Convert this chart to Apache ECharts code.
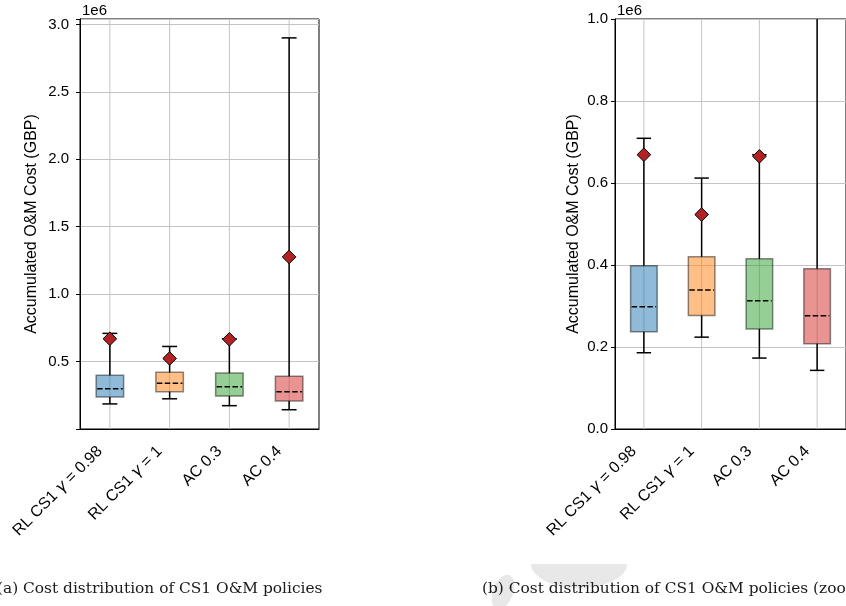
<!DOCTYPE html>
<html><head><meta charset="utf-8">
<script src="https://cdn.jsdelivr.net/npm/echarts@6/dist/echarts.min.js"></script>
<style>html,body{margin:0;padding:0;background:#fff}#c{width:846px;height:606px}</style>
</head><body><div id="c"></div>
<script>
// values in units of 1e6 GBP
const categories = ['RL CS1 γ = 0.98', 'RL CS1 γ = 1', 'AC 0.3', 'AC 0.4'];
const whiskerLow  = [0.186, 0.224, 0.173, 0.143];
const q1          = [0.237, 0.277, 0.244, 0.208];
const median      = [0.298, 0.339, 0.313, 0.276];
const q3          = [0.398, 0.420, 0.415, 0.391];
const whiskerHigh = [0.709, 0.612, 0.669, 2.900];
const mean        = [0.669, 0.523, 0.665, 1.276];
const fillColors  = ['rgba(31,119,180,0.5)', 'rgba(255,127,14,0.5)', 'rgba(44,160,44,0.5)', 'rgba(214,39,40,0.5)'];
const yLabelName  = 'Accumulated O&M Cost (GBP)';
const captions    = ['(a) Cost distribution of CS1 O&M policies', '(b) Cost distribution of CS1 O&M policies (zoomed in)'];

const FONT = 'Liberation Sans';
const GRIDC = '#c4c4c4';

const boxData = categories.map((c, i) => [i, whiskerLow[i], q1[i], median[i], q3[i], whiskerHigh[i], mean[i]]);
const gridData = categories.map((c, i) => [i]);

function catFormatter(v) {
  const m = v.match(/^(.*)γ(.*)$/);
  if (m) return '{n|' + m[1] + '}{g|γ}{n|' + m[2] + '}';
  return '{n|' + v + '}';
}

function renderBox(params, api) {
  const i = api.value(0);
  const band = api.size([1, 0])[0];
  const cx = api.coord([i, 0])[0];
  const y = k => api.coord([i, api.value(k)])[1];
  const yLo = y(1), yQ1 = y(2), yMed = y(3), yQ3 = y(4), yHi = y(5), yMean = y(6);
  const bw = band * 0.46, cw = band * 0.25, d = 6.8;
  const line = (x1, y1, x2, y2, extra) => ({
    type: 'line', shape: { x1, y1, x2, y2 },
    style: Object.assign({ stroke: '#000', lineWidth: 1.5 }, extra || {})
  });
  return {
    type: 'group',
    children: [
      { type: 'rect', shape: { x: cx - bw / 2, y: yQ3, width: bw, height: yQ1 - yQ3 },
        style: { fill: fillColors[i], stroke: 'rgba(0,0,0,0.45)', lineWidth: 1.5 } },
      line(cx, yQ1, cx, yLo),
      line(cx, yQ3, cx, yHi),
      line(cx - cw / 2, yLo, cx + cw / 2, yLo),
      line(cx - cw / 2, yHi, cx + cw / 2, yHi),
      line(cx - bw / 2 + 1, yMed, cx + bw / 2 - 1, yMed, { lineDash: [5.5, 2.4] }),
      { type: 'polygon', shape: { points: [[cx, yMean - d], [cx + d, yMean], [cx, yMean + d], [cx - d, yMean]] },
        style: { fill: '#b22222', stroke: '#000', lineWidth: 1 } }
    ]
  };
}

function renderGridLine(params, api) {
  const cs = params.coordSys;
  const x = api.coord([api.value(0), 0])[0];
  return { type: 'line', shape: { x1: x, y1: cs.y, x2: x, y2: cs.y + cs.height },
           style: { stroke: GRIDC, lineWidth: 1 } };
}

function xAxisCfg(gi) {
  return {
    type: 'category', gridIndex: gi, data: categories, boundaryGap: true,
    axisLine: { lineStyle: { color: '#000', width: 1 } },
    axisTick: { alignWithLabel: true, length: 4, lineStyle: { color: '#000' } },
    splitLine: { show: false },
    axisLabel: {
      rotate: 45, margin: 10, interval: 0, color: '#000', formatter: catFormatter,
      padding: [0, 14, 0, 0],
      rich: { n: { fontFamily: FONT, fontSize: 16, color: '#000' },
              g: { fontFamily: 'DejaVu Sans', fontStyle: 'italic', fontSize: 16, color: '#000' } }
    }
  };
}

function yAxisCfg(gi, min, max, interval, gap, nameGap, hideZero) {
  return {
    type: 'value', gridIndex: gi, min, max, interval,
    name: yLabelName, nameLocation: 'middle', nameGap,
    nameTextStyle: { fontFamily: FONT, fontSize: 16, color: '#000' },
    axisLine: { show: true, lineStyle: { color: '#000', width: 1 } },
    axisTick: { show: true, length: 4, lineStyle: { color: '#000' } },
    splitLine: { show: true, lineStyle: { color: GRIDC, width: 1 } },
    axisLabel: {
      margin: gap, fontFamily: FONT, fontSize: 15, color: '#000',
      formatter: v => {
        const k = Math.round(v / interval);
        if (Math.abs(v - k * interval) > 1e-9) return '';
        if (hideZero && k === 0) return '';
        return v.toFixed(1);
      }
    }
  };
}

const chart = echarts.init(document.getElementById('c'), null, { renderer: 'canvas' });
chart.setOption({
  animation: false,
  backgroundColor: '#fff',
  grid: [
    { left: 80, top: 19, width: 239, height: 410, show: true, borderColor: '#000', borderWidth: 1, backgroundColor: 'transparent' },
    { left: 615, top: 19, width: 238, height: 410, show: true, borderColor: '#000', borderWidth: 1, backgroundColor: 'transparent' }
  ],
  xAxis: [xAxisCfg(0), xAxisCfg(1)],
  yAxis: [
    yAxisCfg(0, 0, 3.04, 0.5, 11, 40, true),
    yAxisCfg(1, 0, 1.0, 0.2, 7, 33, false)
  ],
  series: [
    { type: 'custom', xAxisIndex: 0, yAxisIndex: 0, data: gridData, renderItem: renderGridLine, encode: { x: 0 }, z: 1, silent: true },
    { type: 'custom', xAxisIndex: 1, yAxisIndex: 1, data: gridData, renderItem: renderGridLine, encode: { x: 0 }, z: 1, silent: true },
    { type: 'custom', xAxisIndex: 0, yAxisIndex: 0, data: boxData, renderItem: renderBox, encode: { x: 0, y: [1, 2, 3, 4, 5, 6] }, z: 3, clip: true },
    { type: 'custom', xAxisIndex: 1, yAxisIndex: 1, data: boxData, renderItem: renderBox, encode: { x: 0, y: [1, 2, 3, 4, 5, 6] }, z: 3, clip: true }
  ],
  graphic: [
    { type: 'sector', z: -10, x: 579, y: 564, scaleY: 0.5, shape: { cx: 0, cy: 0, r0: 0, r: 48, startAngle: 0, endAngle: Math.PI }, style: { fill: '#e8e8e8' } },
    { type: 'ellipse', z: -10, rotation: -0.35, x: 503, y: 592, shape: { cx: 0, cy: 0, rx: 10, ry: 18 }, style: { fill: '#e8e8e8' } },
    { type: 'text', left: 82, top: 3, style: { text: '1e6', fontFamily: FONT, fontSize: 15, fill: '#000' } },
    { type: 'text', left: 617, top: 3, style: { text: '1e6', fontFamily: FONT, fontSize: 15, fill: '#000' } },
    { type: 'text', x: -3, y: 581, style: { text: captions[0], fontFamily: 'DejaVu Serif', fontSize: 15.4, fill: '#1a1a1a' } },
    { type: 'text', x: 482, y: 581, style: { text: captions[1], fontFamily: 'DejaVu Serif', fontSize: 15.4, fill: '#1a1a1a' } }
  ]
});
</script>
</body></html>
